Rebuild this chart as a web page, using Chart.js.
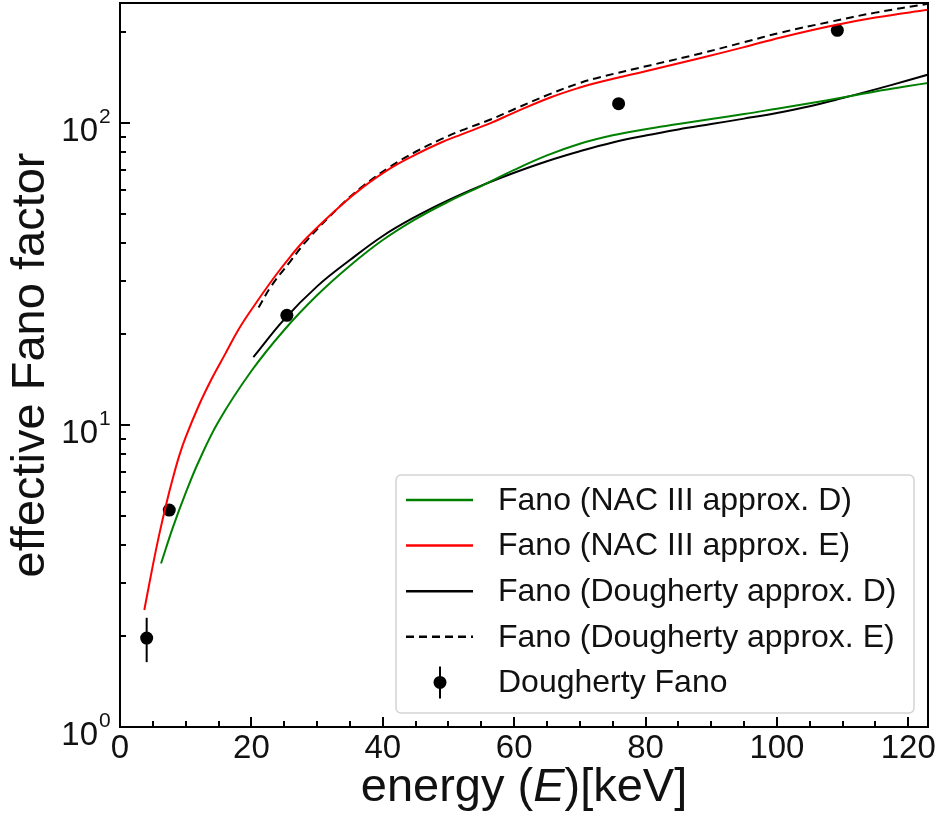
<!DOCTYPE html>
<html>
<head>
<meta charset="utf-8">
<script src="https://cdn.jsdelivr.net/npm/chart.js@4.4.1/dist/chart.umd.min.js"></script>
<style>
  html, body { margin: 0; padding: 0; background: #fff; }
  #chart { display: block; }
</style>
</head>
<body>
<canvas id="chart" width="936" height="819"></canvas>
<script>
const canvas = document.getElementById('chart');
const ctx = canvas.getContext('2d');

const FONT = "'Liberation Sans', Arial, Helvetica, sans-serif";

// Fano (NAC III approx. D) - green
const nacD_E = [6.25, 8, 10, 12, 15, 20, 25, 30, 35, 40, 45, 50, 55, 60, 65, 70, 75, 80, 85, 90, 95, 100, 105, 110, 115, 120, 123.2];
const nacD_F = [3.48, 4.55, 5.96, 7.59, 10.28, 15.1, 20.65, 26.9, 33.7, 41.0, 48.1, 55.0, 61.9, 70.0, 78.2, 85.5, 91.2, 95.5, 99.3, 103.3, 107.2, 111.7, 116.4, 121.6, 127.4, 132.7, 136.1];

// Fano (NAC III approx. E) - red
const nacE_E = [3.7, 5, 6, 7, 8, 9, 10, 12, 14, 16, 18, 20, 23.4, 26, 28.5, 33.5, 37, 41.2, 45, 48.8, 52, 56.4, 60, 65.5, 70, 73.2, 80.8, 88.4, 95, 100.6, 108.2, 115, 123.2];
const nacE_F = [2.44, 3.43, 4.37, 5.43, 6.61, 7.89, 9.12, 11.61, 14.29, 17.18, 20.65, 24.1, 30.7, 36.3, 41.9, 53.1, 61.4, 71.0, 78.7, 86.1, 91.8, 100, 108.4, 121.6, 131.2, 137.1, 150, 164.4, 178.6, 192.3, 209.9, 223.9, 237.7];

// Fano (Dougherty approx. D) - black solid
const dougD_E = [20.3, 25, 30, 35, 40, 45, 50, 55, 60, 65, 70, 75, 80, 85, 90, 95, 100, 105, 110, 115, 120, 123.2];
const dougD_F = [16.8, 22.4, 28.8, 35.2, 42.3, 49.0, 55.6, 62.1, 68.5, 74.8, 80.7, 86.3, 91.0, 95.3, 99.3, 103.5, 108.1, 113.8, 121.1, 129.4, 138.7, 145.2];

// Fano (Dougherty approx. E) - black dashed
const dougE_E = [21.1, 23, 25.9, 28.5, 33.5, 37, 41.2, 45, 48.8, 52, 56.4, 60, 65.5, 70, 73.2, 80.8, 88.4, 95, 100.6, 108.2, 115, 123.2];
const dougE_F = [24.5, 28.8, 34.8, 41.0, 53.1, 61.9, 71.9, 80.4, 88.3, 94.6, 102.8, 111.2, 125.0, 135.8, 142.2, 155.6, 170.2, 185.4, 199.5, 216.8, 232.3, 248.9];

// Dougherty Fano measured points
const pointE = [4.06, 7.5, 25.4, 75.9, 109.2];
const pointF = [1.97, 5.23, 23.1, 116, 203];
const pointErr = [0.33, 0, 0, 0, 0];

// axis ticks
const xTicks = [0, 20, 40, 60, 80, 100, 120];
const yTicks = [1, 10, 100];
const yTickExp = ['0', '1', '2'];

const toXY = (xs, ys) => xs.map((x, i) => ({ x: x, y: ys[i] }));

function curve(label, xs, ys, color, dash) {
    return {
        type: 'line',
        label: label,
        data: toXY(xs, ys),
        borderColor: color,
        backgroundColor: color,
        borderWidth: 2,
        borderDash: dash || [],
        pointRadius: 0,
        tension: 0.4,
        fill: false
    };
}

// error bars, frame, inward ticks, y tick labels, x title with italic E
const decorations = {
    id: 'decorations',
    beforeDatasetsDraw(chart) {
        const c = chart.ctx;
        const xs = chart.scales.x, ys = chart.scales.y;
        chart.data.datasets.forEach(ds => {
            if (!ds.yErr) return;
            c.save();
            c.strokeStyle = ds.borderColor;
            c.lineWidth = 2;
            ds.data.forEach((p, i) => {
                const e = ds.yErr[i];
                if (!e) return;
                const px = xs.getPixelForValue(p.x);
                c.beginPath();
                c.moveTo(px, ys.getPixelForValue(p.y - e));
                c.lineTo(px, ys.getPixelForValue(p.y + e));
                c.stroke();
            });
            c.restore();
        });
    },
    afterDatasetsDraw(chart) {
        const c = chart.ctx;
        const a = chart.chartArea;
        const xs = chart.scales.x, ys = chart.scales.y;
        c.save();
        c.strokeStyle = '#000';
        c.lineWidth = 2;
        // x ticks (major every 20, minor every 5)
        for (let v = 0; v <= xs.max; v += 5) {
            const px = Math.round(xs.getPixelForValue(v));
            const len = v % 20 === 0 ? 10 : 6;
            c.beginPath();
            c.moveTo(px, a.bottom);
            c.lineTo(px, a.bottom - len);
            c.stroke();
        }
        // y ticks (log)
        for (let d = 1; d <= 100; d *= 10) {
            for (let m = 1; m <= 9; m++) {
                const v = d * m;
                if (v > ys.max) break;
                const py = Math.round(ys.getPixelForValue(v));
                const len = m === 1 ? 10 : 6;
                c.beginPath();
                c.moveTo(a.left, py);
                c.lineTo(a.left + len, py);
                c.stroke();
            }
        }
        // frame
        c.strokeRect(a.left, a.top, a.right - a.left, a.bottom - a.top);

        // y tick labels 10^n
        c.fillStyle = '#111';
        yTicks.forEach((v, i) => {
            const py = ys.getPixelForValue(v);
            c.font = '33px ' + FONT;
            c.textAlign = 'right';
            c.textBaseline = 'alphabetic';
            c.fillText('10', a.left - 22, py + 18);
            c.font = '21px ' + FONT;
            c.textAlign = 'left';
            c.fillText(yTickExp[i], a.left - 21, py);
        });

        // x title: energy (E)[keV]
        const size = 47;
        const parts = [
            { t: 'energy (', f: size + 'px ' + FONT },
            { t: 'E', f: 'italic ' + size + 'px ' + FONT },
            { t: ')[keV]', f: size + 'px ' + FONT }
        ];
        let total = 0;
        parts.forEach(p => { c.font = p.f; p.w = c.measureText(p.t).width; total += p.w; });
        let x0 = (a.left + a.right) / 2 - total / 2;
        c.textAlign = 'left';
        c.textBaseline = 'alphabetic';
        parts.forEach(p => { c.font = p.f; c.fillText(p.t, x0, 801); x0 += p.w; });
        c.restore();
    }
};

// legend box inside the plot area
const legendBox = {
    id: 'legendBox',
    afterDraw(chart) {
        const c = chart.ctx;
        const box = { x: 396, y: 475, w: 518, h: 238 };
        c.save();
        c.fillStyle = 'rgba(255,255,255,0.85)';
        c.strokeStyle = '#d4d4d4';
        c.lineWidth = 1.5;
        c.beginPath();
        c.roundRect(box.x, box.y, box.w, box.h, 5);
        c.fill();
        c.stroke();
        c.font = '32px ' + FONT;
        c.textAlign = 'left';
        c.textBaseline = 'middle';
        chart.data.datasets.forEach((ds, i) => {
            const y = 500 + i * 45.6;
            if (ds.yErr) {
                c.strokeStyle = ds.borderColor;
                c.lineWidth = 2;
                c.beginPath();
                c.moveTo(440, y - 16);
                c.lineTo(440, y + 16);
                c.stroke();
                c.fillStyle = ds.backgroundColor;
                c.beginPath();
                c.arc(440, y, 6.5, 0, Math.PI * 2);
                c.fill();
            } else {
                c.strokeStyle = ds.borderColor;
                c.lineWidth = 2.5;
                c.setLineDash(ds.borderDash || []);
                c.beginPath();
                c.moveTo(406, y);
                c.lineTo(473, y);
                c.stroke();
                c.setLineDash([]);
            }
            c.fillStyle = '#111';
            c.fillText(ds.label, 498, y + 1);
        });
        c.restore();
    }
};

new Chart(ctx, {
    data: {
        datasets: [
            curve('Fano (NAC III approx. D)', nacD_E, nacD_F, '#008000'),
            curve('Fano (NAC III approx. E)', nacE_E, nacE_F, '#ff0000'),
            curve('Fano (Dougherty approx. D)', dougD_E, dougD_F, '#000000'),
            curve('Fano (Dougherty approx. E)', dougE_E, dougE_F, '#000000', [8, 5]),
            {
                type: 'scatter',
                label: 'Dougherty Fano',
                data: toXY(pointE, pointF),
                yErr: pointErr,
                borderColor: '#000',
                backgroundColor: '#000',
                pointRadius: 6.5,
                pointBorderWidth: 0,
                showLine: false
            }
        ]
    },
    options: {
        responsive: false,
        animation: false,
        layout: { autoPadding: false, padding: { top: 3, right: 8, left: 0, bottom: 0 } },
        plugins: {
            legend: { display: false },
            tooltip: { enabled: false }
        },
        scales: {
            x: {
                type: 'linear',
                min: 0,
                max: 123,
                grid: { display: false, drawTicks: false },
                border: { display: false },
                afterBuildTicks: s => { s.ticks = xTicks.map(v => ({ value: v })); },
                afterFit: s => { s.height = 92; s.paddingLeft = 0; s.paddingRight = 0; },
                ticks: {
                    autoSkip: false,
                    maxRotation: 0,
                    padding: 2,
                    color: '#111',
                    font: { family: FONT, size: 33 }
                }
            },
            y: {
                type: 'logarithmic',
                min: 1,
                max: 250,
                grid: { display: false, drawTicks: false },
                border: { display: false },
                afterBuildTicks: s => { s.ticks = yTicks.map(v => ({ value: v })); },
                afterFit: s => { s.width = 120; s.paddingTop = 0; s.paddingBottom = 0; },
                ticks: { display: false },
                title: {
                    display: true,
                    text: 'effective Fano factor',
                    color: '#111',
                    padding: { top: 3, bottom: 0 },
                    font: { family: FONT, size: 47 }
                }
            }
        }
    },
    plugins: [decorations, legendBox]
});
</script>
</body>
</html>
